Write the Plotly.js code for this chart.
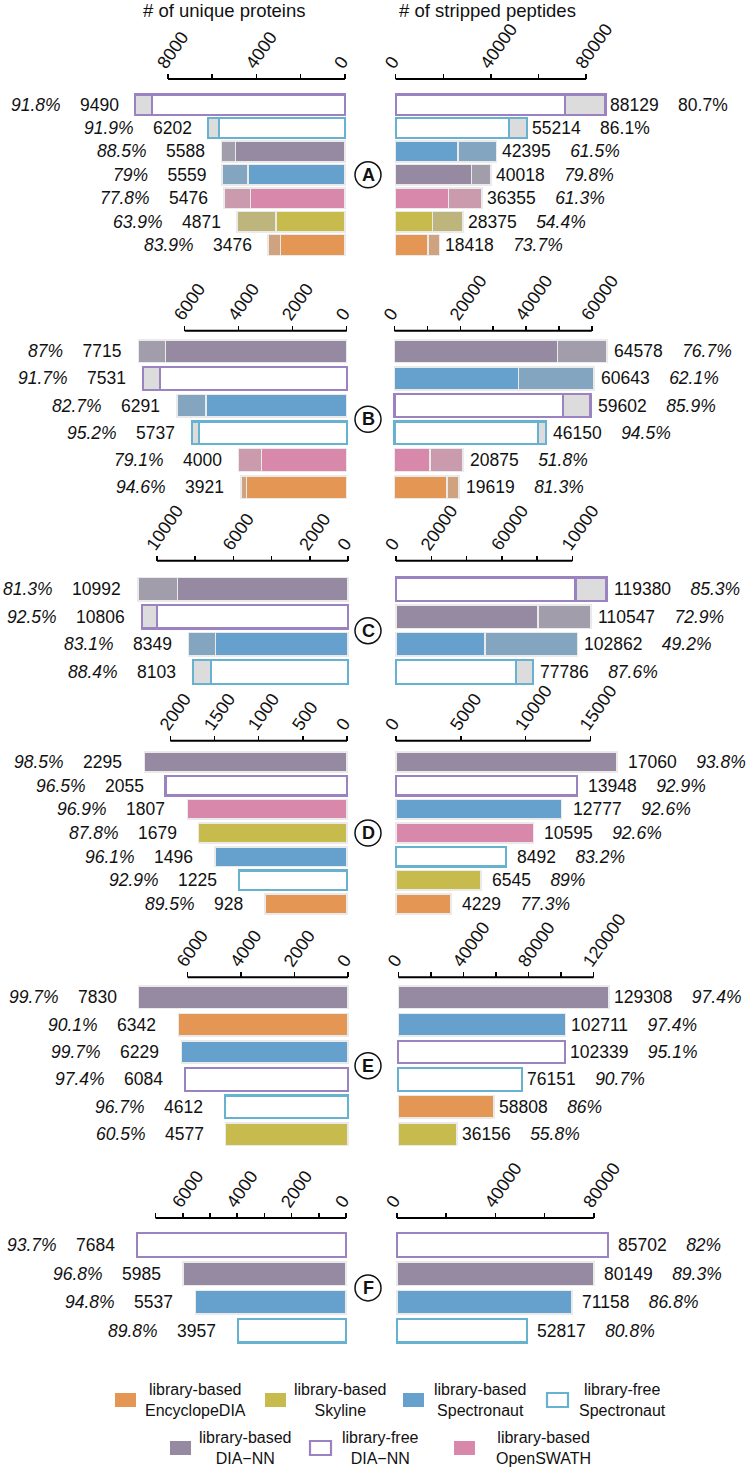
<!DOCTYPE html>
<html><head><meta charset="utf-8">
<script src="https://cdn.plot.ly/plotly-3.0.1.min.js"></script>
<style>html,body{margin:0;padding:0;background:#fff}#chart{width:750px;height:1468px}</style>
</head><body><div id="chart"></div><script>
// ================= DATA =================
const legendTools = ['lbEnc','lbSky','lbSpec','lfSpec','lbDIA','lfDIA','lbOS'];
const legendLabels = ['library-based<br>EncyclopeDIA','library-based<br>Skyline','library-based<br>Spectronaut','library-free<br>Spectronaut','library-based<br>DIA\u2212NN','library-free<br>DIA\u2212NN','library-based<br>OpenSWATH'];
const panelLetters = ['A','B','C','D','E','F'];
const sideTitles = ['# of unique proteins','# of stripped peptides'];

const protA_tools = ['lfDIA','lfSpec','lbDIA','lbSpec','lbOS','lbSky','lbEnc'];
const protA_counts = [9490,6202,5588,5559,5476,4871,3476];
const protA_pct = [91.8,91.9,88.5,79,77.8,63.9,83.9];
const pepA_tools = ['lfDIA','lfSpec','lbSpec','lbDIA','lbOS','lbSky','lbEnc'];
const pepA_counts = [88129,55214,42395,40018,36355,28375,18418];
const pepA_pct = [80.7,86.1,61.5,79.8,61.3,54.4,73.7];

const protB_tools = ['lbDIA','lfDIA','lbSpec','lfSpec','lbOS','lbEnc'];
const protB_counts = [7715,7531,6291,5737,4000,3921];
const protB_pct = [87,91.7,82.7,95.2,79.1,94.6];
const pepB_tools = ['lbDIA','lbSpec','lfDIA','lfSpec','lbOS','lbEnc'];
const pepB_counts = [64578,60643,59602,46150,20875,19619];
const pepB_pct = [76.7,62.1,85.9,94.5,51.8,81.3];

const protC_tools = ['lbDIA','lfDIA','lbSpec','lfSpec'];
const protC_counts = [10992,10806,8349,8103];
const protC_pct = [81.3,92.5,83.1,88.4];
const pepC_tools = ['lfDIA','lbDIA','lbSpec','lfSpec'];
const pepC_counts = [119380,110547,102862,77786];
const pepC_pct = [85.3,72.9,49.2,87.6];

const protD_tools = ['lbDIA','lfDIA','lbOS','lbSky','lbSpec','lfSpec','lbEnc'];
const protD_counts = [2295,2055,1807,1679,1496,1225,928];
const protD_pct = [98.5,96.5,96.9,87.8,96.1,92.9,89.5];
const pepD_tools = ['lbDIA','lfDIA','lbSpec','lbOS','lfSpec','lbSky','lbEnc'];
const pepD_counts = [17060,13948,12777,10595,8492,6545,4229];
const pepD_pct = [93.8,92.9,92.6,92.6,83.2,89,77.3];

const protE_tools = ['lbDIA','lbEnc','lbSpec','lfDIA','lfSpec','lbSky'];
const protE_counts = [7830,6342,6229,6084,4612,4577];
const protE_pct = [99.7,90.1,99.7,97.4,96.7,60.5];
const pepE_tools = ['lbDIA','lbSpec','lfDIA','lfSpec','lbEnc','lbSky'];
const pepE_counts = [129308,102711,102339,76151,58808,36156];
const pepE_pct = [97.4,97.4,95.1,90.7,86,55.8];

const protF_tools = ['lfDIA','lbDIA','lbSpec','lfSpec'];
const protF_counts = [7684,5985,5537,3957];
const protF_pct = [93.7,96.8,94.8,89.8];
const pepF_tools = ['lfDIA','lbDIA','lbSpec','lfSpec'];
const pepF_counts = [85702,80149,71158,52817];
const pepF_pct = [82,89.3,86.8,80.8];

const protA_ticks = [0,2000,4000,6000,8000];           const protA_tickText = ['0','','4000','','8000'];
const pepA_ticks  = [0,20000,40000,60000,80000];       const pepA_tickText  = ['0','','40000','','80000'];
const protB_ticks = [0,2000,4000,6000];                const protB_tickText = ['0','2000','4000','6000'];
const pepB_ticks  = [0,10000,20000,30000,40000,50000,60000]; const pepB_tickText = ['0','','20000','','40000','','60000'];
const protC_ticks = [0,2000,4000,6000,8000,10000];     const protC_tickText = ['0','2000','','6000','','10000'];
const pepC_ticks  = [0,20000,40000,60000,80000,100000]; const pepC_tickText = ['0','20000','','60000','','10000'];
const protD_ticks = [0,500,1000,1500,2000];            const protD_tickText = ['0','500','1000','1500','2000'];
const pepD_ticks  = [0,5000,10000,15000];              const pepD_tickText  = ['0','5000','10000','15000'];
const protE_ticks = [0,2000,4000,6000];                const protE_tickText = ['0','2000','4000','6000'];
const pepE_ticks  = [0,20000,40000,60000,80000,100000,120000]; const pepE_tickText = ['0','','40000','','80000','','120000'];
const protF_ticks = [0,1000,2000,3000,4000,5000,6000,7000]; const protF_tickText = ['0','','2000','','4000','','6000',''];
const pepF_ticks  = [0,20000,40000,60000,80000];       const pepF_tickText  = ['0','','40000','','80000'];

// ================= STYLE / GEOMETRY =================
const W = 750, H = 1468;
const FONT = 'Liberation Sans, Arial, Helvetica, sans-serif';
const STYLE = {
  lbEnc:  {fill:'#E49754', rest:'#CFA37F', line:'#EAEAEA', lw:1.5},
  lbSky:  {fill:'#C8BB4D', rest:'#BDB57C', line:'#EAEAEA', lw:1.5},
  lbSpec: {fill:'#66A1CD', rest:'#83A5C0', line:'#EAEAEA', lw:1.5},
  lfSpec: {fill:'#FFFFFF', rest:'#DCDCDC', line:'#67B2CF', lw:2.2},
  lbDIA:  {fill:'#958AA2', rest:'#A19DAB', line:'#EAEAEA', lw:1.5},
  lfDIA:  {fill:'#FFFFFF', rest:'#DCDCDC', line:'#9B82C1', lw:2.2},
  lbOS:   {fill:'#D888AB', rest:'#C99BAD', line:'#EAEAEA', lw:1.5}
};
const UPRIGHT = {'A-pep':[0,1]};
const GEOM = {
  A:{axisY:79,    c0:104.7, pitch:23.38, bw:0.88, split:true,  L:{x0:345,  k:0.022125, off:14}, R:{x0:395.7, k:0.00238,  off:3}},
  B:{axisY:330.7, c0:351.3, pitch:27.18, bw:0.835,split:true,  L:{x0:346.7,k:0.0270,   off:15}, R:{x0:394.5, k:0.00329,  off:5}},
  C:{axisY:560.7, c0:589.3, pitch:27.57, bw:0.85, split:true,  L:{x0:348,  k:0.0191,   off:15}, R:{x0:396,   k:0.0017633,off:5}},
  D:{axisY:740.7, c0:762,   pitch:23.67, bw:0.83, split:false, L:{x0:347,  k:0.0883,   off:20}, R:{x0:396,   k:0.01296,  off:9}},
  E:{axisY:977.3, c0:997.2, pitch:27.4,  bw:0.82, split:false, L:{x0:348,  k:0.02675,  off:20}, R:{x0:398.3, k:0.001628, off:3}},
  F:{axisY:1218,  c0:1245,  pitch:28.6,  bw:0.82, split:false, L:{x0:346,  k:0.0272,   off:20}, R:{x0:397,   k:0.00246,  off:8}}
};
const TICK_SHIFT_PX = 9;   // move rotated labels left on screen
const TICK_STANDOFF = -7;
const CIRCLE_X = 368, CIRCLE_R = 13;
const LEGEND_POS = [
  {sx:115, ty:1400, tx:196}, {sx:265, ty:1400, tx:340}, {sx:403, ty:1400, tx:480}, {sx:547, ty:1400, tx:622},
  {sx:170, ty:1448, tx:245}, {sx:310, ty:1448, tx:380}, {sx:454, ty:1448, tx:543}
];

const DATA = {
  A:{prot:[protA_tools,protA_counts,protA_pct,protA_ticks,protA_tickText], pep:[pepA_tools,pepA_counts,pepA_pct,pepA_ticks,pepA_tickText]},
  B:{prot:[protB_tools,protB_counts,protB_pct,protB_ticks,protB_tickText], pep:[pepB_tools,pepB_counts,pepB_pct,pepB_ticks,pepB_tickText]},
  C:{prot:[protC_tools,protC_counts,protC_pct,protC_ticks,protC_tickText], pep:[pepC_tools,pepC_counts,pepC_pct,pepC_ticks,pepC_tickText]},
  D:{prot:[protD_tools,protD_counts,protD_pct,protD_ticks,protD_tickText], pep:[pepD_tools,pepD_counts,pepD_pct,pepD_ticks,pepD_tickText]},
  E:{prot:[protE_tools,protE_counts,protE_pct,protE_ticks,protE_tickText], pep:[pepE_tools,pepE_counts,pepE_pct,pepE_ticks,pepE_tickText]},
  F:{prot:[protF_tools,protF_counts,protF_pct,protF_ticks,protF_tickText], pep:[pepF_tools,pepF_counts,pepF_pct,pepF_ticks,pepF_tickText]}
};

// ================= BUILD =================
const traces = [], annotations = [], shapes = [];
const layout = {
  width:W, height:H, margin:{l:0,r:0,t:0,b:0},
  paper_bgcolor:'#fff', plot_bgcolor:'rgba(0,0,0,0)',
  barmode:'stack', showlegend:false, font:{family:FONT, color:'#111'}
};
const NB = '\u00A0\u00A0\u00A0\u00A0';

panelLetters.forEach((id, pi) => {
  const g = GEOM[id];
  ['prot','pep'].forEach((side, si) => {
    const [tools, counts, pct, ticks, tickText] = DATA[id][side];
    const n = tools.length;
    const num = pi*2 + si + 1;
    const xr = num === 1 ? 'x' : 'x' + num, yr = num === 1 ? 'y' : 'y' + num;
    const xk = num === 1 ? 'xaxis' : 'xaxis' + num, yk = num === 1 ? 'yaxis' : 'yaxis' + num;
    const sg = si === 0 ? g.L : g.R;
    const maxV = Math.max(...counts) * 1.04, pad = 3 / sg.k;
    const top = g.c0 - g.pitch/2, bot = top + n*g.pitch;
    let dom, rng;
    if (si === 0) { dom = [(sg.x0 - maxV*sg.k)/W, (sg.x0 + 3)/W]; rng = [maxV, -pad]; }
    else          { dom = [(sg.x0 - 3)/W, (sg.x0 + maxV*sg.k)/W]; rng = [-pad, maxV]; }
    const axPos = 1 - g.axisY/H;
    layout[xk] = {domain:dom, range:rng, anchor:'free', position:axPos, side:'top',
      tickmode:'array', tickvals:ticks, ticktext:tickText, ticks:'outside', ticklen:5, tickwidth:1.5, tickcolor:'#000',
      showline:false, showgrid:false, zeroline:false, tickangle:-55,
      ticklabelshift: si === 0 ? TICK_SHIFT_PX : -TICK_SHIFT_PX, ticklabelstandoff: TICK_STANDOFF,
      tickfont:{size:18, color:'#111', family:FONT}, fixedrange:true};
    layout[yk] = {domain:[1 - bot/H, 1 - top/H], anchor:xr, type:'category', categoryorder:'array',
      categoryarray:tools, range:[n - 0.5, -0.5], visible:false, fixedrange:true};
    shapes.push({type:'line', xref:xr, yref:'paper', x0:0, x1:ticks[ticks.length-1], y0:axPos, y1:axPos,
      line:{color:'#000', width:2}});

    const mk = (vals, key) => ({type:'bar', orientation:'h', x:vals, y:tools, xaxis:xr, yaxis:yr, width:g.bw,
      marker:{color:tools.map(t => STYLE[t][key]), line:{color:tools.map(t => STYLE[t].line), width:tools.map(t => STYLE[t].lw)}},
      hoverinfo:'skip', showlegend:false});
    if (g.split) {
      const kept = counts.map((c, i) => c * pct[i] / 100);
      const lost = counts.map((c, i) => c - kept[i]);
      traces.push(mk(kept, 'fill'));
      traces.push(mk(lost, 'rest'));
    } else {
      traces.push(mk(counts, 'fill'));
    }

    const up = UPRIGHT[id + '-' + side] || [];
    tools.forEach((t, i) => {
      const p = up.includes(i) ? pct[i] + '%' : '<i>' + pct[i] + '%</i>';
      annotations.push({xref:xr, yref:yr, x:counts[i], y:t, showarrow:false,
        xanchor: si === 0 ? 'right' : 'left', xshift: si === 0 ? -sg.off : sg.off,
        text: si === 0 ? p + NB + counts[i] : counts[i] + NB + p,
        font:{size:17.5, color:'#111', family:FONT}});
    });
  });
  // panel letter
  const n = DATA[id].prot[0].length;
  const cy = g.c0 + (n - 1) * g.pitch / 2;
  shapes.push({type:'circle', xref:'paper', yref:'paper',
    x0:(CIRCLE_X - CIRCLE_R)/W, x1:(CIRCLE_X + CIRCLE_R)/W, y0:1 - (cy + CIRCLE_R)/H, y1:1 - (cy - CIRCLE_R)/H,
    line:{color:'#111', width:1.5}, fillcolor:'#fff'});
  annotations.push({xref:'paper', yref:'paper', x:CIRCLE_X/W, y:1 - cy/H, showarrow:false,
    text:'<b>' + id + '</b>', font:{size:18, color:'#111', family:FONT}, xanchor:'center', yanchor:'middle'});
});

// side titles
annotations.push({xref:'paper', yref:'paper', x:224/W, y:1 - 10/H, showarrow:false, text:sideTitles[0],
  font:{size:18.5, color:'#111', family:FONT}, xanchor:'center', yanchor:'middle'});
annotations.push({xref:'paper', yref:'paper', x:487/W, y:1 - 10/H, showarrow:false, text:sideTitles[1],
  font:{size:18.5, color:'#111', family:FONT}, xanchor:'center', yanchor:'middle'});

// legend
legendTools.forEach((t, i) => {
  const p = LEGEND_POS[i], st = STYLE[t];
  const outline = st.fill === '#FFFFFF';
  shapes.push({type:'rect', xref:'paper', yref:'paper', x0:p.sx/W, x1:(p.sx + 21)/W,
    y0:1 - (p.ty + 7)/H, y1:1 - (p.ty - 7)/H,
    fillcolor: st.fill, line:{color: outline ? st.line : st.fill, width: outline ? 2.2 : 0}});
  annotations.push({xref:'paper', yref:'paper', x:p.tx/W, y:1 - p.ty/H, showarrow:false, text:legendLabels[i],
    align:'center', xanchor:'center', yanchor:'middle', font:{size:16, color:'#111', family:FONT}});
});

layout.shapes = shapes;
layout.annotations = annotations;
Plotly.newPlot('chart', traces, layout, {staticPlot:true, displayModeBar:false});
</script></body></html>
